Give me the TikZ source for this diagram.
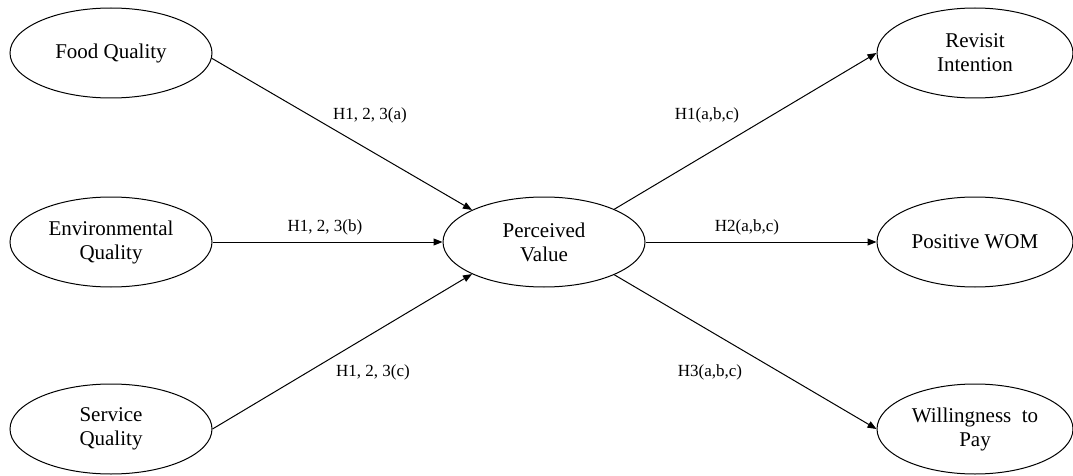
\documentclass[tikz,border=0pt]{standalone}
\usepackage{fontspec}
\setmainfont{Liberation Serif}
\usetikzlibrary{arrows.meta,shapes.geometric}
\begin{document}
\begin{tikzpicture}[x=1pt,y=1pt,
  construct/.style={ellipse,draw,line width=1pt,minimum width=202pt,minimum height=90pt,inner sep=0pt,align=center,font=\fontsize{21}{24}\selectfont},
  rconstruct/.style={construct,minimum width=196pt},
  hyp/.style={font=\fontsize{17}{20}\selectfont,inner sep=0pt},
  path/.style={draw,line width=1pt,-{Triangle[length=9pt,width=7pt]}}]
\useasboundingbox (0,0) rectangle (1073,475);
\node[construct] (food) at (111,422) {Food Quality};
\node[construct] (env) at (111,233) {Environmental\\Quality};
\node[construct] (serv) at (111,46) {Service\\Quality};
\node[construct] (pv) at (544,233) {Perceived\\Value};
\node[rconstruct] (rev) at (975,422) {Revisit\\Intention};
\node[rconstruct] (wom) at (975,233) {Positive WOM};
\node[rconstruct] (wtp) at (975,46) {Willingness\ \ to\\Pay};
\draw[path] (food.-3) -- (pv.156);
\draw[path] (env.east) -- (pv.west);
\draw[path] (serv.east) -- (pv.204);
\draw[path] (pv.25) -- (rev.west);
\draw[path] (pv.east) -- (wom.west);
\draw[path] (pv.-25) -- (wtp.west);
\node[hyp] (la) at (370,360) {H1, 2, 3(a)};
\node[hyp] (lb) at (325,248) {H1, 2, 3(b)};
\node[hyp] (lc) at (373,103) {H1, 2, 3(c)};
\node[hyp] (l1) at (707,360) {H1(a,b,c)};
\node[hyp] (l2) at (747,248) {H2(a,b,c)};
\node[hyp] (l3) at (710,103) {H3(a,b,c)};
\end{tikzpicture}
\end{document}
